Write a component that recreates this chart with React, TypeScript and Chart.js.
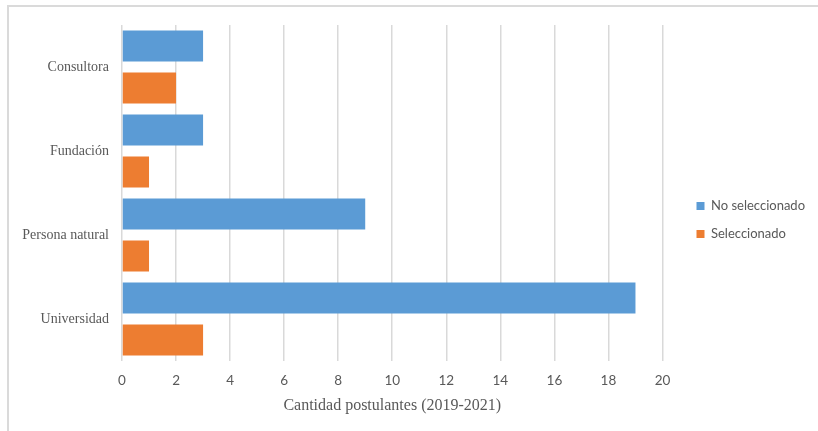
import React, { useEffect, useRef } from "react";
import { Chart, registerables } from "chart.js";

Chart.register(...registerables);

const categories = ["Consultora", "Fundación", "Persona natural", "Universidad"];
const noSeleccionado = [3, 3, 9, 19];
const seleccionado = [2, 1, 1, 3];
const seriesNames = ["No seleccionado", "Seleccionado"];
const axisTitle = "Cantidad postulantes (2019-2021)";

const legendShift = {
  id: "legendShift",
  afterLayout(chart: any) {
    const lg = chart.legend;
    if (!lg) return;
    lg.left += 19;
    lg.right += 19;
    lg.top -= 8;
    lg.bottom -= 8;
  },
};

export default function App() {
  const ref = useRef<HTMLCanvasElement>(null);
  useEffect(() => {
    if (!ref.current) return;
    const chart = new Chart(ref.current, {
      type: "bar",
      data: {
        labels: categories,
        datasets: [
          { label: seriesNames[0], data: noSeleccionado, backgroundColor: "#5B9BD5", borderWidth: 0 },
          { label: seriesNames[1], data: seleccionado, backgroundColor: "#ED7D31", borderWidth: 0 },
        ],
      },
      plugins: [legendShift],
      options: {
        indexAxis: "y",
        animation: false,
        responsive: false,
        maintainAspectRatio: false,
        devicePixelRatio: 1,
        datasets: { bar: { categoryPercentage: 1, barPercentage: 0.74 } },
        layout: { padding: { top: 25, right: 22, bottom: 0, left: 0 } },
        plugins: {
          tooltip: { enabled: false },
          legend: {
            position: "right",
            labels: {
              boxWidth: 8,
              boxHeight: 8,
              padding: 15,
              color: "#595959",
              font: { family: "Lato", size: 13 },
            },
          },
        },
        scales: {
          x: {
            min: 0,
            max: 20,
            ticks: { stepSize: 2, padding: 12, color: "#595959", font: { family: "Lato", size: 13.5 } },
            grid: { color: "#d9d9d9", lineWidth: 1.5, drawTicks: false },
            border: { display: false },
            title: {
              display: true,
              text: axisTitle,
              color: "#595959",
              font: { family: "Liberation Serif", size: 16 },
              padding: { top: 0, bottom: 16 },
            },
            afterFit: (s: any) => { s.height = 70; },
          },
          y: {
            ticks: { padding: 13, color: "#595959", font: { family: "Liberation Serif", size: 14 } },
            grid: { display: false, drawTicks: false },
            border: { display: false },
            afterFit: (s: any) => { s.width = 122; },
          },
        },
      },
    });
    return () => chart.destroy();
  }, []);
  return (
    <div style={{ position: "fixed", left: 0, top: 0, width: 818, height: 431, background: "#fff" }}>
      <div style={{ position: "absolute", left: 7, top: 5, right: 0, bottom: 0, borderTop: "2px solid #dadada", borderLeft: "2px solid #dadada" }} />
      <canvas ref={ref} width={818} height={431} style={{ position: "absolute", left: 0, top: 0 }} />
    </div>
  );
}
